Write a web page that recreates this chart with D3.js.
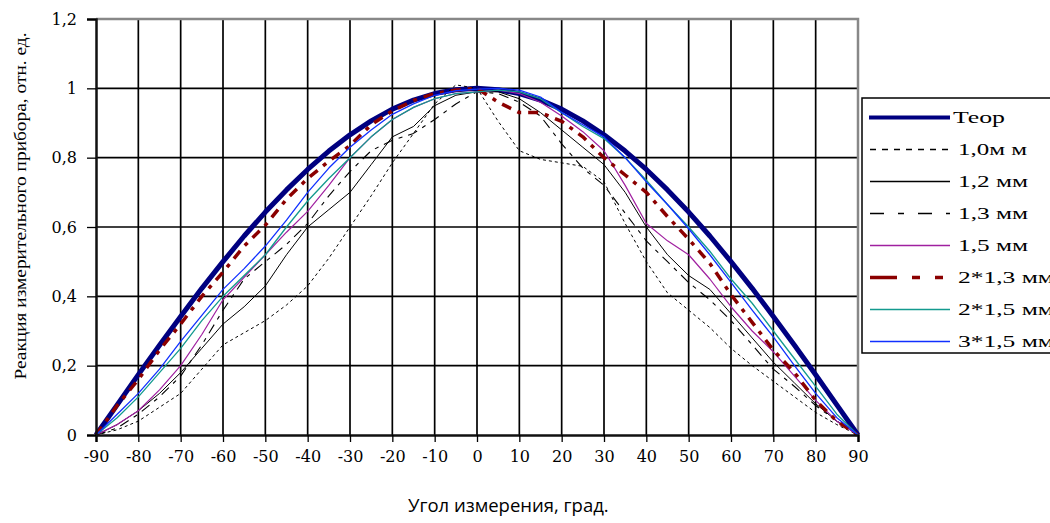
<!DOCTYPE html>
<html>
<head>
<meta charset="utf-8">
<script src="https://cdnjs.cloudflare.com/ajax/libs/d3/7.8.5/d3.min.js"></script>
<style>
body { margin: 0; background: #fff; }
svg { display: block; }
</style>
</head>
<body>
<div class="chart"></div>
<script>
var angles = [-90, -85, -80, -75, -70, -65, -60, -55, -50, -45, -40, -35, -30, -25, -20, -15, -10, -5, 0,
              5, 10, 15, 20, 25, 30, 35, 40, 45, 50, 55, 60, 65, 70, 75, 80, 85, 90];
var teor = [0, 0.087, 0.174, 0.259, 0.342, 0.423, 0.5, 0.574, 0.643, 0.707, 0.766, 0.819, 0.866, 0.906, 0.94, 0.966, 0.985, 0.996, 1,
            0.996, 0.985, 0.966, 0.94, 0.906, 0.866, 0.819, 0.766, 0.707, 0.643, 0.574, 0.5, 0.423, 0.342, 0.259, 0.174, 0.087, 0];
var mm10 = [0, 0.015, 0.04, 0.08, 0.12, 0.19, 0.26, 0.295, 0.33, 0.375, 0.43, 0.51, 0.6, 0.69, 0.785, 0.87, 0.955, 1.01, 1,
            0.905, 0.82, 0.795, 0.785, 0.775, 0.73, 0.61, 0.5, 0.41, 0.36, 0.31, 0.25, 0.2, 0.155, 0.11, 0.065, 0.03, 0];
var mm12 = [0, 0.03, 0.07, 0.12, 0.18, 0.25, 0.32, 0.37, 0.43, 0.52, 0.6, 0.65, 0.7, 0.78, 0.86, 0.89, 0.95, 0.98, 0.99,
            0.99, 0.97, 0.93, 0.88, 0.83, 0.78, 0.7, 0.6, 0.52, 0.46, 0.42, 0.35, 0.28, 0.21, 0.15, 0.09, 0.04, 0];
var mm13 = [0, 0.02, 0.06, 0.11, 0.17, 0.26, 0.36, 0.45, 0.5, 0.55, 0.61, 0.69, 0.76, 0.82, 0.85, 0.87, 0.91, 0.955, 0.99,
            0.985, 0.96, 0.92, 0.84, 0.77, 0.72, 0.64, 0.56, 0.5, 0.44, 0.39, 0.33, 0.26, 0.19, 0.14, 0.085, 0.04, 0];
var mm15 = [0, 0.03, 0.07, 0.13, 0.2, 0.29, 0.39, 0.455, 0.52, 0.585, 0.645, 0.72, 0.8, 0.86, 0.91, 0.945, 0.97, 0.985, 0.99,
            0.995, 0.985, 0.96, 0.92, 0.875, 0.82, 0.72, 0.61, 0.56, 0.52, 0.45, 0.37, 0.3, 0.24, 0.17, 0.1, 0.04, 0];
var mm2x13 = [0, 0.085, 0.16, 0.245, 0.32, 0.4, 0.47, 0.545, 0.605, 0.68, 0.74, 0.79, 0.835, 0.895, 0.935, 0.965, 0.985, 0.995, 1,
              0.96, 0.93, 0.93, 0.905, 0.86, 0.8, 0.75, 0.7, 0.63, 0.565, 0.495, 0.405, 0.325, 0.245, 0.18, 0.1, 0.04, 0];
var mm2x15 = [0, 0.05, 0.11, 0.18, 0.25, 0.33, 0.4, 0.46, 0.52, 0.6, 0.675, 0.74, 0.8, 0.86, 0.91, 0.945, 0.97, 0.985, 0.99,
              0.995, 0.99, 0.97, 0.93, 0.89, 0.855, 0.8, 0.735, 0.665, 0.6, 0.53, 0.45, 0.38, 0.3, 0.22, 0.14, 0.06, 0];
var mm3x15 = [0, 0.06, 0.12, 0.19, 0.27, 0.345, 0.42, 0.48, 0.545, 0.62, 0.7, 0.77, 0.83, 0.88, 0.925, 0.955, 0.98, 0.993, 0.998,
              1, 0.995, 0.975, 0.93, 0.895, 0.86, 0.8, 0.73, 0.665, 0.595, 0.52, 0.44, 0.36, 0.283, 0.2, 0.12, 0.05, 0];
var seriesNames = ['Теор', '1,0м м', '1,2 мм', '1,3 мм', '1,5 мм', '2*1,3 мм', '2*1,5 мм', '3*1,5 мм'];
var xTicks = [-90, -80, -70, -60, -50, -40, -30, -20, -10, 0, 10, 20, 30, 40, 50, 60, 70, 80, 90];
var yTicks = [0, 0.2, 0.4, 0.6, 0.8, 1, 1.2];

var series = [
  { name: seriesNames[0], values: teor, color: '#000080', width: 5, dash: null, legendDash: null, textW: 52 },
  { name: seriesNames[1], values: mm10, color: '#000', width: 1, dash: '3,3', legendDash: '6,6', textW: 69 },
  { name: seriesNames[2], values: mm12, color: '#000', width: 1, dash: null, legendDash: null, textW: 70 },
  { name: seriesNames[3], values: mm13, color: '#000', width: 1.1, dash: '10,6,4,6', legendDash: '14,14,6,14', textW: 70 },
  { name: seriesNames[4], values: mm15, color: '#a020a0', width: 1.2, dash: null, legendDash: null, textW: 70 },
  { name: seriesNames[5], values: mm2x13, color: '#8b0000', width: 3.5, dash: '10,7,4,7', legendDash: '27,15,8,15,8,15', textW: 96 },
  { name: seriesNames[6], values: mm2x15, color: '#139a8e', width: 1.3, dash: null, legendDash: null, textW: 96 },
  { name: seriesNames[7], values: mm3x15, color: '#1030ff', width: 1.3, dash: null, legendDash: null, textW: 96 }
];

var width = 1050, height = 523;
var plotLeft = 96, plotRight = 858, plotTop = 19, plotBottom = 435;

var x = d3.scaleLinear().domain([-90, 90]).range([plotLeft, plotRight]);
var y = d3.scaleLinear().domain([0, 1.2]).range([plotBottom, plotTop]);

var svg = d3.select('.chart').append('svg').attr('width', width).attr('height', height);

// grid
svg.append('g').selectAll('line').data(xTicks.slice(1, -1)).enter().append('line')
  .attr('x1', function(d) { return x(d); }).attr('x2', function(d) { return x(d); })
  .attr('y1', plotTop).attr('y2', plotBottom).attr('stroke', '#000').attr('stroke-width', 1.7);
svg.append('g').selectAll('line').data(yTicks.slice(1, -1)).enter().append('line')
  .attr('x1', plotLeft).attr('x2', plotRight)
  .attr('y1', function(d) { return y(d); }).attr('y2', function(d) { return y(d); })
  .attr('stroke', '#000').attr('stroke-width', 1.7);

// frame (top + right grey)
svg.append('path').attr('d', 'M' + plotLeft + ',' + plotTop + 'H' + plotRight + 'V' + plotBottom)
  .attr('fill', 'none').attr('stroke', '#888').attr('stroke-width', 2.5);

var line = d3.line().x(function(d) { return x(d[0]); }).y(function(d) { return y(d[1]); });

svg.append('g').selectAll('path').data(series).enter().append('path')
  .attr('d', function(s) { return line(angles.map(function(a, i) { return [a, s.values[i]]; })); })
  .attr('fill', 'none')
  .attr('stroke', function(s) { return s.color; })
  .attr('stroke-width', function(s) { return s.width; })
  .attr('stroke-dasharray', function(s) { return s.dash; })
  .attr('stroke-linejoin', 'round');

// axes
var xAxis = svg.append('g').attr('transform', 'translate(0,' + plotBottom + ')')
  .call(d3.axisBottom(x).tickValues(xTicks).tickSize(7).tickPadding(9).tickFormat(d3.format('d')));
var yAxis = svg.append('g').attr('transform', 'translate(' + plotLeft + ',0)')
  .call(d3.axisLeft(y).tickValues(yTicks).tickSize(9).tickPadding(10)
    .tickFormat(function(d) { return String(d).replace('.', ','); }));
[xAxis, yAxis].forEach(function(a) {
  a.select('.domain').attr('stroke', '#111').attr('stroke-width', 2.5);
  a.selectAll('.tick line').attr('stroke', '#000').attr('stroke-width', 1.3);
  a.selectAll('text').attr('font-family', 'DejaVu Serif, serif').attr('font-size', 16).attr('fill', '#000');
});
xAxis.selectAll('text').text(function(d) { return d < 0 ? '-' + Math.abs(d) : d; });

// axis titles
svg.append('text').attr('transform', 'translate(26,206) rotate(-90)')
  .attr('text-anchor', 'middle').style('font-family', '"Liberation Serif", "DejaVu Serif", serif').attr('font-size', 17)
  .attr('textLength', 347).attr('lengthAdjust', 'spacingAndGlyphs')
  .text('Реакция измерительного прибора, отн. ед.');
svg.append('text').attr('x', 408).attr('y', 512)
  .attr('font-family', 'Open Sans, sans-serif').attr('font-size', 18.5)
  .text('Угол измерения, град.');

// legend
var legend = svg.append('g');
legend.append('rect').attr('x', 862).attr('y', 98).attr('width', 200).attr('height', 255)
  .attr('fill', '#fff').attr('stroke', '#000').attr('stroke-width', 1.5);
var item = legend.selectAll('.item').data(series).enter().append('g').attr('class', 'item')
  .attr('transform', function(d, i) { return 'translate(0,' + (117.5 + i * 32) + ')'; });
item.append('line').attr('x1', function(d, i) { return i === 0 ? 869 : 870; }).attr('x2', 950)
  .attr('stroke', function(d) { return d.color; })
  .attr('stroke-width', function(d) { return d.width === 5 ? 4 : Math.max(d.width, 1.4); })
  .attr('stroke-dasharray', function(d) { return d.legendDash; });
item.append('text').attr('x', function(d, i) { return i === 0 ? 953 : 958; }).attr('y', 5)
  .attr('font-family', 'Liberation Serif, serif').attr('font-size', 17)
  .attr('textLength', function(d) { return d.textW; }).attr('lengthAdjust', 'spacingAndGlyphs')
  .text(function(d) { return d.name; });
</script>
</body>
</html>
